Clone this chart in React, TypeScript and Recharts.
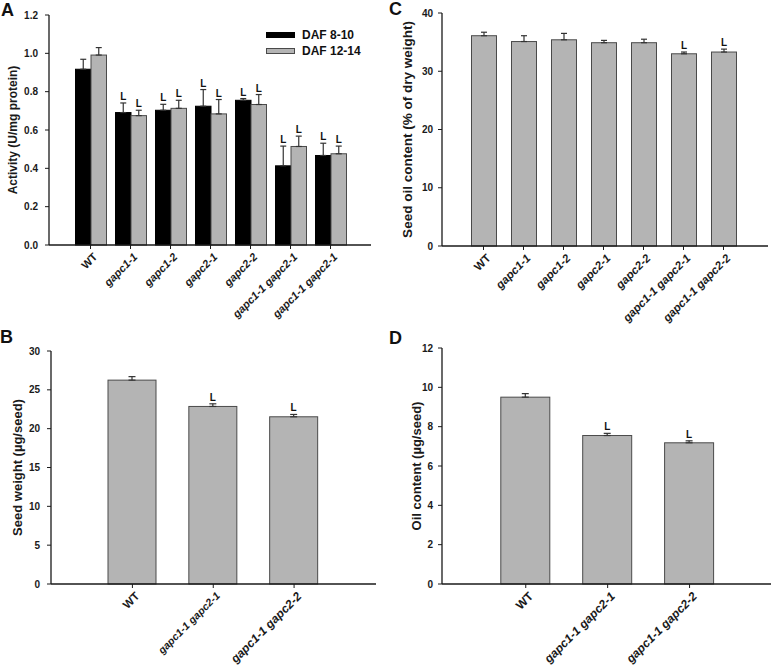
import React from 'react';
import { BarChart, Bar, XAxis, YAxis, ErrorBar, Legend } from 'recharts';

const FONT = 'Arial, "Liberation Sans", Helvetica, sans-serif';
const AXIS = '#1a1a1a';
const GREY = '#b4b4b4';
const GREY_EDGE = '#4a4a4a';
const ERR = '#333333';

// A - enzyme activity
const activityLabels = ['WT', 'gapc1-1', 'gapc1-2', 'gapc2-1', 'gapc2-2', 'gapc1-1 gapc2-1', 'gapc1-1 gapc2-1'];
const activitySeries = ['DAF 8-10', 'DAF 12-14'];
const daf810 = [0.917, 0.691, 0.703, 0.724, 0.755, 0.413, 0.467];
const daf810Err = [0.052, 0.05, 0.031, 0.087, 0.009, 0.103, 0.064];
const daf1214 = [0.991, 0.675, 0.713, 0.684, 0.733, 0.514, 0.476];
const daf1214Err = [0.039, 0.028, 0.042, 0.075, 0.052, 0.054, 0.04];
const activitySig = [false, true, true, true, true, true, true];
const activityTicks = [0, 0.2, 0.4, 0.6, 0.8, 1.0, 1.2];

// B - seed weight
const dblLabels = ['WT', 'gapc1-1 gapc2-1', 'gapc1-1 gapc2-2'];
const seedWeight = [26.25, 22.86, 21.53];
const seedWeightErr = [0.45, 0.34, 0.3];
const dblSig = [false, true, true];
const seedWeightTicks = [0, 5, 10, 15, 20, 25, 30];

// C - oil % of dry weight
const oilLabels = ['WT', 'gapc1-1', 'gapc1-2', 'gapc2-1', 'gapc2-2', 'gapc1-1 gapc2-1', 'gapc1-1 gapc2-2'];
const oilPct = [36.1, 35.1, 35.4, 34.9, 34.9, 33.0, 33.3];
const oilPctErr = [0.6, 1.0, 1.1, 0.4, 0.6, 0.3, 0.5];
const oilPctSig = [false, false, false, false, false, true, true];
const oilPctTicks = [0, 10, 20, 30, 40];

// D - oil per seed
const oilPerSeed = [9.5, 7.55, 7.18];
const oilPerSeedErr = [0.18, 0.11, 0.1];
const oilPerSeedTicks = [0, 2, 4, 6, 8, 10, 12];

const activityData = activityLabels.map((_, i) => ({
  id: i,
  a: daf810[i],
  aErr: [0, daf810Err[i]],
  aE: daf810Err[i],
  b: daf1214[i],
  bErr: [0, daf1214Err[i]],
  bE: daf1214Err[i],
  sig: activitySig[i],
}));
const seedWeightData = dblLabels.map((_, i) => ({
  id: i, v: seedWeight[i], vErr: [0, seedWeightErr[i]], vE: seedWeightErr[i], sig: dblSig[i],
}));
const oilPctData = oilLabels.map((_, i) => ({
  id: i, v: oilPct[i], vErr: [0, oilPctErr[i]], vE: oilPctErr[i], sig: oilPctSig[i],
}));
const oilPerSeedData = dblLabels.map((_, i) => ({
  id: i, v: oilPerSeed[i], vErr: [0, oilPerSeedErr[i]], vE: oilPerSeedErr[i], sig: dblSig[i],
}));

// bar with an "L" above its error bar when significant
const sigBar = (fill: string, stroke: string, valKey: string, errKey: string) => (props: any) => {
  const { x, y, width, height, payload } = props;
  const v = payload[valKey];
  const pxPerUnit = v ? height / v : 0;
  const top = y - payload[errKey] * pxPerUnit;
  return (
    <g>
      <rect x={x} y={y} width={width} height={height} fill={fill} stroke={stroke} strokeWidth={1} />
      {payload.sig && (
        <text x={x + width / 2} y={top - 3} textAnchor="middle" fontSize={10} fontWeight="bold" fontFamily={FONT} fill="#111">
          L
        </text>
      )}
    </g>
  );
};

const AngledTick = (props: any) => {
  const { x, y, payload, labels, sizes } = props;
  const text: string = labels[payload.value];
  const size = sizes ? sizes[payload.value] : 11;
  return (
    <g transform={`translate(${x + 2},${y + 1}) rotate(-45)`}>
      <text
        x={0}
        y={0}
        dy="0.72em"
        textAnchor="end"
        fontSize={size}
        fontWeight="bold"
        fontStyle={text === 'WT' ? 'normal' : 'italic'}
        fontFamily={FONT}
        fill="#1a1a1a"
      >
        {text}
      </text>
    </g>
  );
};

const yTitle = (text: string, cx: number, size: number) => (p: any) => {
  const vb = p.viewBox;
  const cy = vb.y + vb.height / 2;
  return (
    <text
      x={cx}
      y={cy}
      transform={`rotate(-90, ${cx}, ${cy})`}
      textAnchor="middle"
      dominantBaseline="central"
      fontSize={size}
      fontWeight="bold"
      fontFamily={FONT}
      fill="#1a1a1a"
    >
      {text}
    </text>
  );
};

const tickStyle = { fontSize: 10, fontWeight: 'bold', fontFamily: FONT, fill: '#1a1a1a' };

const ActivityLegend = (props: any) => {
  const items = [...(props.payload || [])].sort(
    (p: any, q: any) => activitySeries.indexOf(p.value) - activitySeries.indexOf(q.value)
  );
  return (
    <div style={{ fontFamily: FONT, fontWeight: 'bold', fontSize: 12, color: '#111' }}>
      {items.map((it: any, i: number) => (
        <div key={i} style={{ display: 'flex', alignItems: 'center', height: 16 }}>
          <span
            style={{
              display: 'inline-block',
              width: 27,
              height: 4,
              background: it.color,
              border: `1px solid ${i === 0 ? '#000' : GREY_EDGE}`,
              marginRight: 7,
            }}
          />
          {it.value}
        </div>
      ))}
    </div>
  );
};

// frame lines on top / right
const frame = (
  <>
    <XAxis xAxisId="top" orientation="top" dataKey="id" height={0} tick={false} tickLine={false} axisLine={{ stroke: AXIS, strokeWidth: 1.3 }} />
    <YAxis yAxisId="right" orientation="right" type="number" domain={[0, 1]} width={0} tick={false} tickLine={false} axisLine={{ stroke: AXIS, strokeWidth: 1.3 }} />
  </>
);

export default function App() {
  return (
    <div style={{ position: 'absolute', left: 0, top: 0, width: 774, height: 669, background: '#fff' }}>
      {/* A */}
      <div style={{ position: 'absolute', left: 0, top: 0 }}>
        <BarChart width={390} height={340} data={activityData} margin={{ top: 15, right: 19, left: 0, bottom: 0 }} barGap={0}>
          <XAxis
            dataKey="id"
            type="category"
            height={95}
            padding={{ left: 21.5, right: 20.5 }}
            interval={0}
            tickSize={4}
            tickLine={{ stroke: AXIS }}
            axisLine={{ stroke: AXIS, strokeWidth: 1.3 }}
            tick={<AngledTick labels={activityLabels} />}
          />
          <YAxis
            width={49}
            domain={[0, 1.2]}
            ticks={activityTicks}
            tickFormatter={(v: number) => v.toFixed(1)}
            tickSize={4}
            tickMargin={7}
            tick={tickStyle}
            tickLine={{ stroke: AXIS }}
            axisLine={{ stroke: AXIS, strokeWidth: 1.3 }}
            label={{ content: yTitle('Activity (U/mg protein)', 13, 12) }}
          />
          {frame}
          <Legend
            layout="vertical"
            verticalAlign="middle"
            align="center"
            content={<ActivityLegend />}
            wrapperStyle={{ position: 'absolute', left: 266, top: 27, width: 110, height: 34 }}
          />
          <Bar dataKey="a" name={activitySeries[0]} fill="#000" barSize={15.5} isAnimationActive={false} shape={sigBar('#000', '#000', 'a', 'aE')}>
            <ErrorBar dataKey="aErr" width={3} stroke={ERR} strokeWidth={1.2} direction="y" />
          </Bar>
          <Bar dataKey="b" name={activitySeries[1]} fill={GREY} barSize={15.5} isAnimationActive={false} shape={sigBar(GREY, GREY_EDGE, 'b', 'bE')}>
            <ErrorBar dataKey="bErr" width={3} stroke={ERR} strokeWidth={1.2} direction="y" />
          </Bar>
        </BarChart>
      </div>

      {/* B */}
      <div style={{ position: 'absolute', left: 0, top: 340 }}>
        <BarChart width={390} height={329} data={seedWeightData} margin={{ top: 11, right: 14, left: 0, bottom: 0 }}>
          <XAxis
            dataKey="id"
            type="category"
            height={85}
            padding={{ left: 41, right: 41.5 }}
            interval={0}
            tickSize={4}
            tickLine={{ stroke: AXIS }}
            axisLine={{ stroke: AXIS, strokeWidth: 1.3 }}
            tick={<AngledTick labels={dblLabels} sizes={[11.5, 10.5, 12]} />}
          />
          <YAxis
            width={51}
            domain={[0, 30]}
            ticks={seedWeightTicks}
            tickSize={4}
            tickMargin={7}
            tick={tickStyle}
            tickLine={{ stroke: AXIS }}
            axisLine={{ stroke: AXIS, strokeWidth: 1.3 }}
            label={{ content: yTitle('Seed weight (\u00b5g/seed)', 17, 13) }}
          />
          {frame}
          <Bar dataKey="v" fill={GREY} barSize={48} isAnimationActive={false} shape={sigBar(GREY, GREY_EDGE, 'v', 'vE')}>
            <ErrorBar dataKey="vErr" width={3.5} stroke={ERR} strokeWidth={1.2} direction="y" />
          </Bar>
        </BarChart>
      </div>

      {/* C */}
      <div style={{ position: 'absolute', left: 390, top: 0 }}>
        <BarChart width={384} height={340} data={oilPctData} margin={{ top: 13, right: 6, left: 0, bottom: 0 }}>
          <XAxis
            dataKey="id"
            type="category"
            height={94}
            padding={{ left: 21.5, right: 24.5 }}
            interval={0}
            tickSize={4}
            tickLine={{ stroke: AXIS }}
            axisLine={{ stroke: AXIS, strokeWidth: 1.3 }}
            tick={<AngledTick labels={oilLabels} sizes={[11.5, 11.5, 11.5, 11.5, 11.5, 11.5, 11.5]} />}
          />
          <YAxis
            width={52}
            domain={[0, 40]}
            ticks={oilPctTicks}
            tickSize={4}
            tickMargin={5}
            tick={tickStyle}
            tickLine={{ stroke: AXIS }}
            axisLine={{ stroke: AXIS, strokeWidth: 1.3 }}
            label={{ content: yTitle('Seed oil content (% of dry weight)', 17, 13.5) }}
          />
          {frame}
          <Bar dataKey="v" fill={GREY} barSize={25} isAnimationActive={false} shape={sigBar(GREY, GREY_EDGE, 'v', 'vE')}>
            <ErrorBar dataKey="vErr" width={3} stroke={ERR} strokeWidth={1.2} direction="y" />
          </Bar>
        </BarChart>
      </div>

      {/* D */}
      <div style={{ position: 'absolute', left: 390, top: 340 }}>
        <BarChart width={384} height={329} data={oilPerSeedData} margin={{ top: 8, right: 3, left: 0, bottom: 0 }}>
          <XAxis
            dataKey="id"
            type="category"
            height={85}
            padding={{ left: 42.8, right: 40.5 }}
            interval={0}
            tickSize={4}
            tickLine={{ stroke: AXIS }}
            axisLine={{ stroke: AXIS, strokeWidth: 1.3 }}
            tick={<AngledTick labels={dblLabels} sizes={[12, 12, 12]} />}
          />
          <YAxis
            width={52}
            domain={[0, 12]}
            ticks={oilPerSeedTicks}
            tickSize={4}
            tickMargin={5}
            tick={tickStyle}
            tickLine={{ stroke: AXIS }}
            axisLine={{ stroke: AXIS, strokeWidth: 1.3 }}
            label={{ content: yTitle('Oil content (\u00b5g/seed)', 26, 13) }}
          />
          {frame}
          <Bar dataKey="v" fill={GREY} barSize={49} isAnimationActive={false} shape={sigBar(GREY, GREY_EDGE, 'v', 'vE')}>
            <ErrorBar dataKey="vErr" width={3.5} stroke={ERR} strokeWidth={1.2} direction="y" />
          </Bar>
        </BarChart>
      </div>

      {/* panel letters */}
      <svg width={774} height={669} style={{ position: 'absolute', left: 0, top: 0, pointerEvents: 'none' }}>
        <g fontFamily={FONT} fontWeight="bold" fontSize={18} fill="#111">
          <text x={1} y={16}>A</text>
          <text x={0} y={343}>B</text>
          <text x={389} y={15}>C</text>
          <text x={389} y={344}>D</text>
        </g>
      </svg>
    </div>
  );
}
